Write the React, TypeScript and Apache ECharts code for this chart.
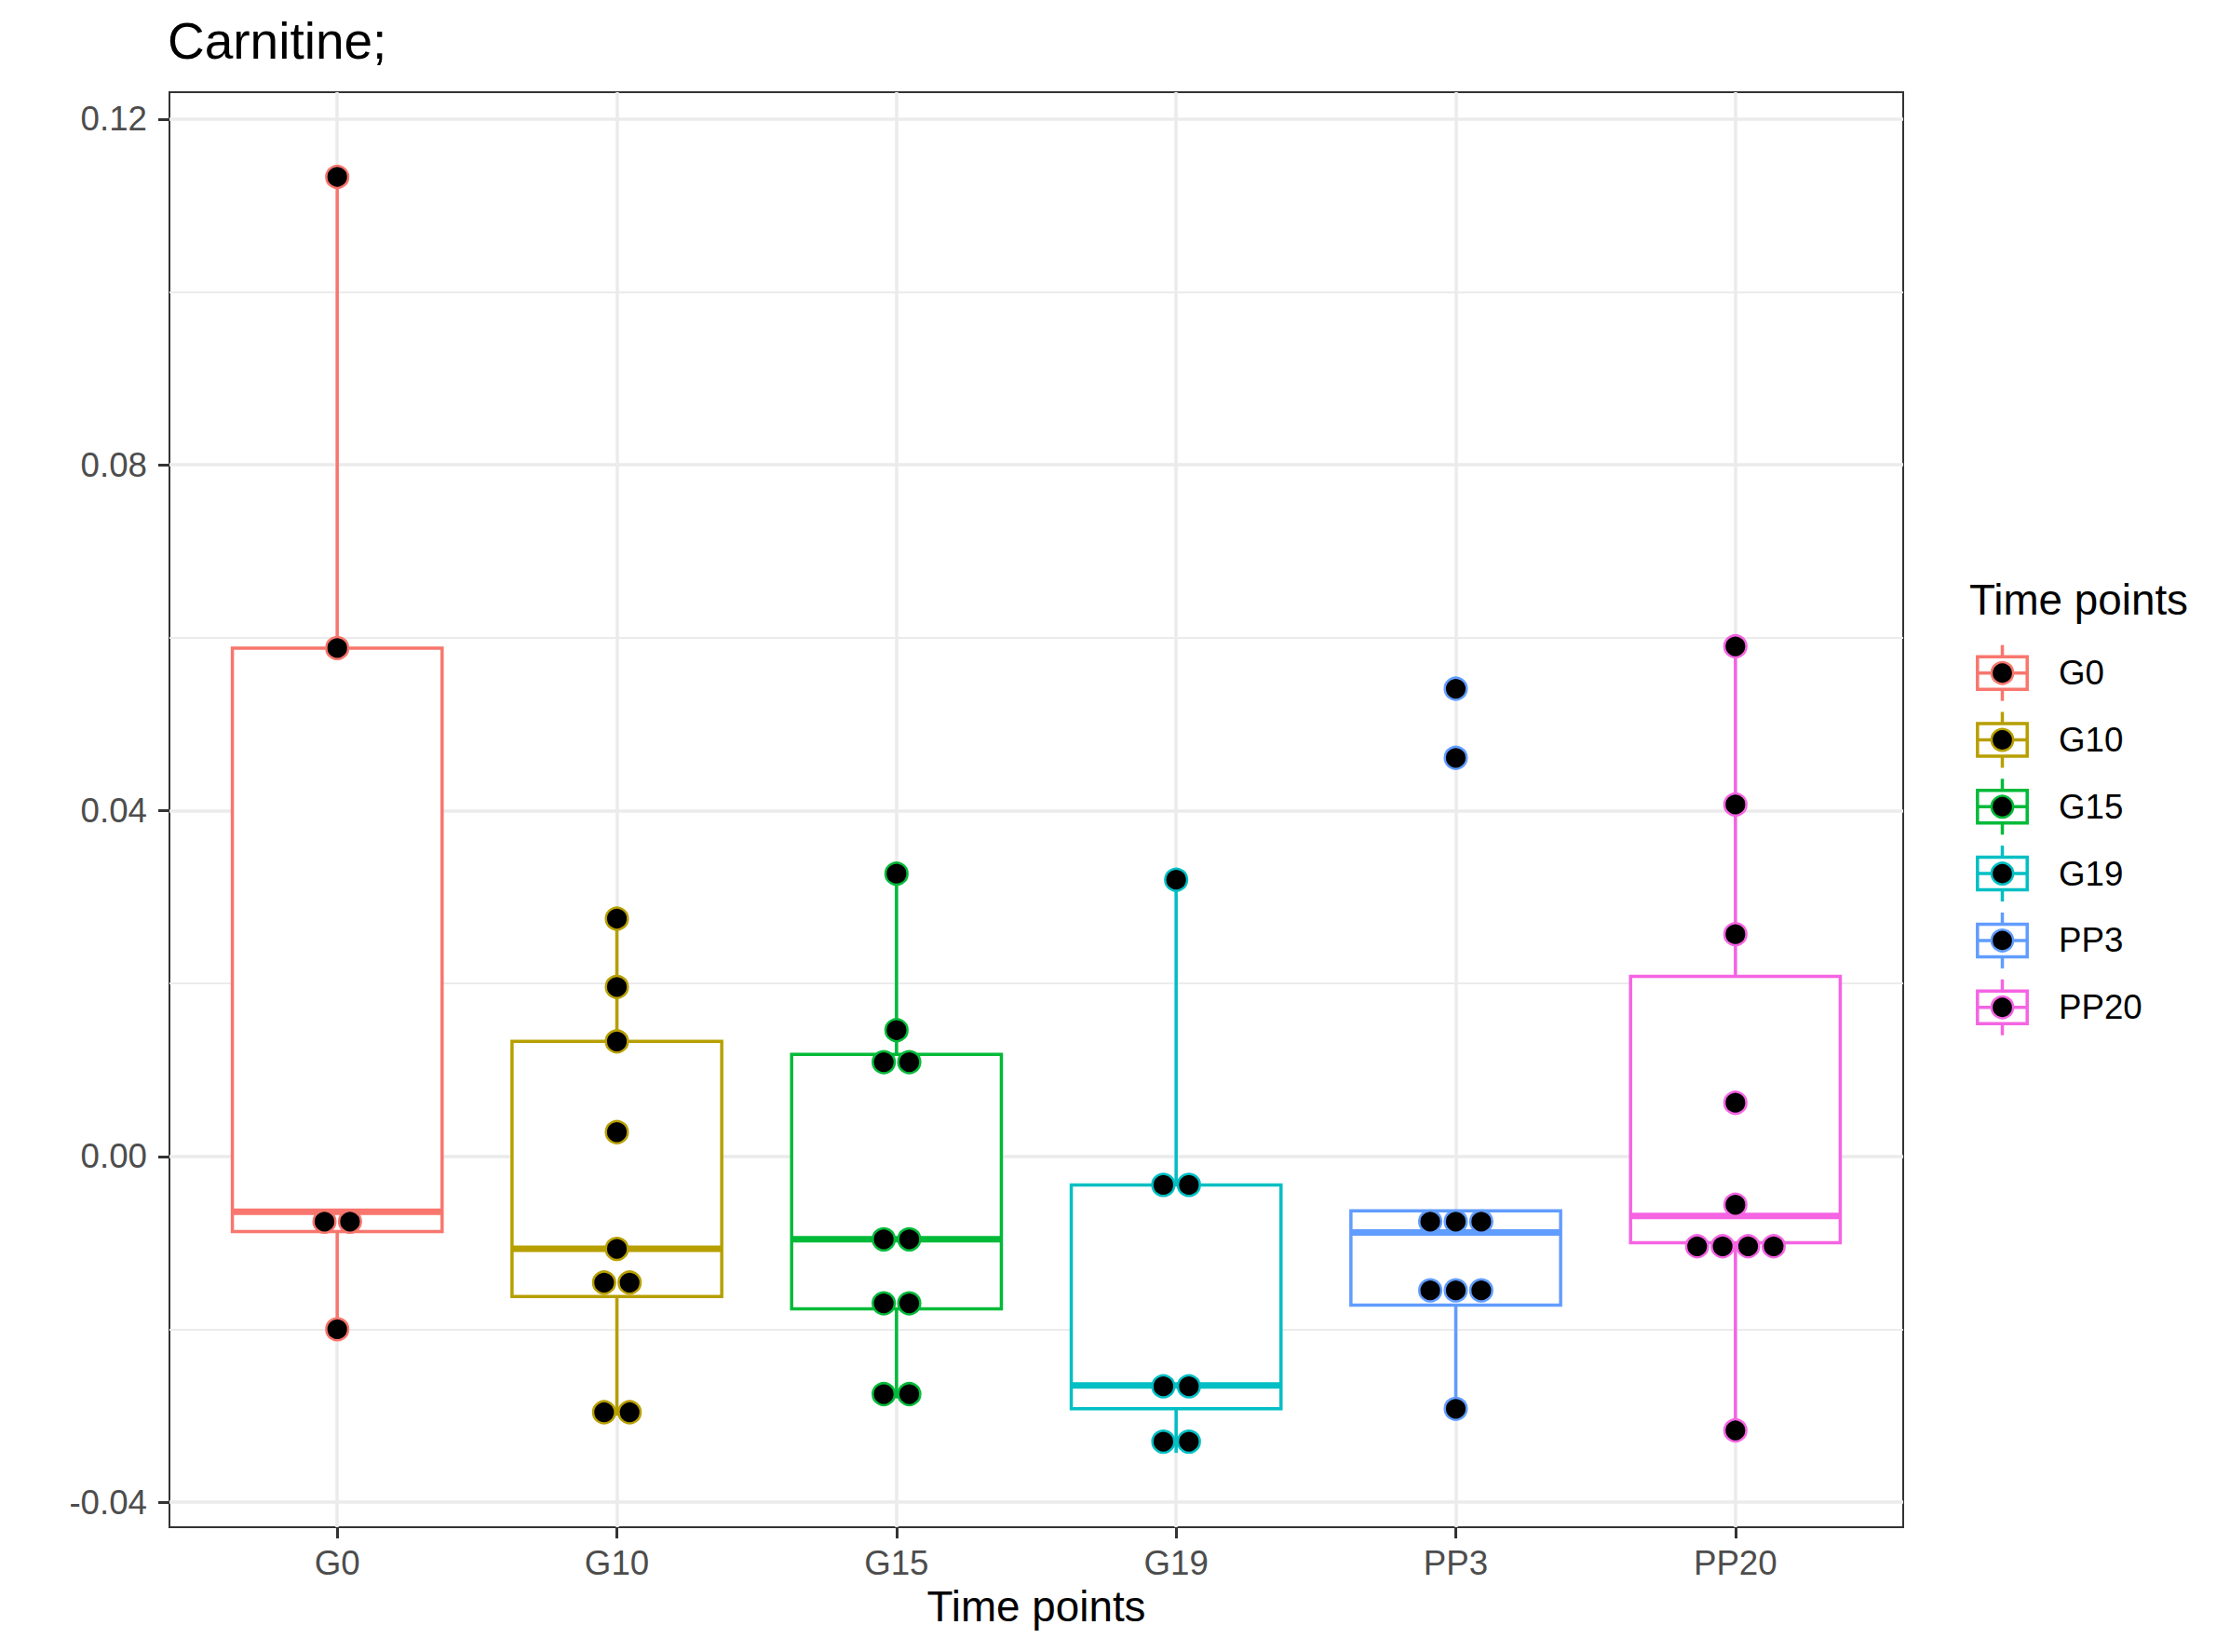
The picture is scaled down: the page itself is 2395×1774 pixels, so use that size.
import React, { useEffect, useRef } from "react";
import * as echarts from "echarts";

const FONT = "'Liberation Sans', Arial, Helvetica, sans-serif";

const categories = ["G0", "G10", "G15", "G19", "PP3", "PP20"];
const colors = ["#F8766D", "#B79F00", "#00BA38", "#00BFC4", "#619CFF", "#F564E3"];

const g0 = [-0.02, -0.0087, -0.0064, 0.0588, 0.1133];
const g10 = [-0.03, -0.0292, -0.0162, -0.013, -0.0107, 0.0028, 0.0133, 0.0196, 0.0275];
const g15 = [-0.028, -0.027, -0.0183, -0.0157, -0.0105, -0.0087, 0.0091, 0.0127, 0.0146, 0.0327];
const g19 = [-0.0343, -0.0317, -0.0267, -0.0265, -0.0036, -0.003, 0.032];
const pp3 = [-0.0292, -0.0174, -0.0172, -0.0136, -0.0088, -0.007, -0.0063, 0.0461, 0.0541];
const pp20 = [-0.0317, -0.0126, -0.0103, -0.0091, -0.0082, -0.0056, 0.0062, 0.0257, 0.0407, 0.059];
const groups = [g0, g10, g15, g19, pp3, pp20];

const yMajorTicks = [-0.04, 0, 0.04, 0.08, 0.12];
const yMinorTicks = [-0.02, 0.02, 0.06, 0.1];
const yRange = [-0.0429, 0.1231];
const xRange = [0.4, 6.6];
const xTicks = [1, 2, 3, 4, 5, 6];

const BOX_WIDTH = 0.75;
const DOT_SPACING = 27.4;
const DOT_R = 11.8;
const LINE_W = 3.5;

function quantile(sorted: number[], p: number) {
  const h = (sorted.length - 1) * p;
  const lo = Math.floor(h);
  const hi = Math.ceil(h);
  return sorted[lo] + (h - lo) * (sorted[hi] - sorted[lo]);
}

function boxStats(vals: number[]) {
  const s = [...vals].sort((a, b) => a - b);
  const q1 = quantile(s, 0.25);
  const med = quantile(s, 0.5);
  const q3 = quantile(s, 0.75);
  const iqr = q3 - q1;
  const lo = Math.min(...s.filter((v) => v >= q1 - 1.5 * iqr));
  const hi = Math.max(...s.filter((v) => v <= q3 + 1.5 * iqr));
  return [lo, q1, med, q3, hi];
}

// ggplot2 "dotdensity" binning
function densityBins(vals: number[], binwidth: number) {
  const s = [...vals].sort((a, b) => a - b);
  const bins: number[][] = [];
  let binEnd = -Infinity;
  for (const v of s) {
    if (v >= binEnd) {
      binEnd = v + binwidth;
      bins.push([]);
    }
    bins[bins.length - 1].push(v);
  }
  return bins.map((b) => ({ center: (b[0] + b[b.length - 1]) / 2, n: b.length }));
}

export default function App() {
  const ref = useRef<HTMLDivElement>(null);

  useEffect(() => {
    document.body.style.margin = "0";
    if (!ref.current) return;
    const chart = echarts.init(ref.current, null, { renderer: "svg" });

    const all = groups.flat();
    const binwidth = (Math.max(...all) - Math.min(...all)) / 30;

    const boxData = groups.map((g, i) => [i + 1, ...boxStats(g), i]);
    const dotData: number[][] = [];
    groups.forEach((g, i) => {
      densityBins(g, binwidth).forEach((b) => {
        for (let k = 0; k < b.n; k++) {
          dotData.push([i + 1, b.center, k - (b.n - 1) / 2, i]);
        }
      });
    });

    // legend graphics
    const legX = 2150.5;
    const legY0 = 722.7;
    const legStep = 71.8;
    const legendChildren: any[] = [
      {
        type: "text",
        x: 2115,
        y: 644,
        style: { text: "Time points", font: `45.8px ${FONT}`, fill: "#000", textVerticalAlign: "middle" },
      },
    ];
    categories.forEach((c, i) => {
      const cy = legY0 + i * legStep;
      const col = colors[i];
      legendChildren.push(
        { type: "line", shape: { x1: legX, y1: cy - 30, x2: legX, y2: cy + 30 }, style: { stroke: col, lineWidth: LINE_W } },
        { type: "rect", shape: { x: legX - 26.7, y: cy - 17.5, width: 53.4, height: 35 }, style: { fill: "#fff", stroke: col, lineWidth: LINE_W } },
        { type: "line", shape: { x1: legX - 26.7, y1: cy, x2: legX + 26.7, y2: cy }, style: { stroke: col, lineWidth: LINE_W } },
        { type: "circle", shape: { cx: legX, cy, r: 11.6 }, style: { fill: "#000", stroke: col, lineWidth: 2.5 } },
        {
          type: "text",
          x: 2211,
          y: cy,
          style: { text: c, font: `36.7px ${FONT}`, fill: "#000", textVerticalAlign: "middle" },
        }
      );
    });

    chart.setOption({
      animation: false,
      backgroundColor: "#fff",
      title: {
        text: "Carnitine;",
        left: 180,
        top: 16,
        padding: 0,
        textStyle: { fontSize: 55, fontWeight: "normal", color: "#000", fontFamily: FONT },
      },
      grid: {
        left: 182,
        top: 99,
        width: 1862,
        height: 1541,
        show: true,
        borderColor: "#333333",
        borderWidth: 2,
        backgroundColor: "#fff",
      },
      xAxis: {
        type: "value",
        min: xRange[0],
        max: xRange[1],
        position: "bottom",
        axisLine: { show: false, onZero: false },
        axisTick: { show: true, length: 12, customValues: xTicks, lineStyle: { color: "#333333", width: 3 } },
        axisLabel: {
          customValues: xTicks,
          formatter: (v: number) => categories[Math.round(v) - 1] ?? "",
          color: "#4D4D4D",
          fontSize: 36.7,
          fontFamily: FONT,
          margin: 20,
        },
        splitLine: { show: true, lineStyle: { color: "#EBEBEB", width: 3.5 } },
        name: "Time points",
        nameLocation: "middle",
        nameGap: 62,
        nameTextStyle: { fontSize: 45.8, color: "#000", fontFamily: FONT },
      },
      yAxis: [
        {
          type: "value",
          min: yRange[0],
          max: yRange[1],
          position: "left",
          axisLine: { show: false, onZero: false },
          axisTick: { show: true, length: 12, customValues: yMajorTicks, lineStyle: { color: "#333333", width: 3 } },
          axisLabel: {
            customValues: yMajorTicks,
            formatter: (v: number) => v.toFixed(2),
            color: "#4D4D4D",
            fontSize: 36.7,
            fontFamily: FONT,
            margin: 24,
          },
          splitLine: { show: true, lineStyle: { color: "#EBEBEB", width: 3.5 } },
        },
        {
          type: "value",
          min: yRange[0],
          max: yRange[1],
          position: "right",
          axisLine: { show: false, onZero: false },
          axisTick: { show: false, customValues: yMinorTicks },
          axisLabel: { show: false, customValues: yMinorTicks },
          splitLine: { show: true, lineStyle: { color: "#EBEBEB", width: 1.8 } },
        },
      ],
      series: [
        {
          type: "custom",
          name: "box",
          data: boxData,
          encode: { x: 0, y: [1, 2, 3, 4, 5] },
          z: 2,
          renderItem: (params: any, api: any) => {
            const x = api.value(0);
            const col = colors[api.value(6)];
            const halfW = api.size([BOX_WIDTH, 0])[0] / 2;
            const pLo = api.coord([x, api.value(1)]);
            const pQ1 = api.coord([x, api.value(2)]);
            const pMed = api.coord([x, api.value(3)]);
            const pQ3 = api.coord([x, api.value(4)]);
            const pHi = api.coord([x, api.value(5)]);
            const children: any[] = [];
            if (Math.abs(pHi[1] - pQ3[1]) > 0.5) {
              children.push({ type: "line", shape: { x1: pQ3[0], y1: pQ3[1], x2: pHi[0], y2: pHi[1] }, style: { stroke: col, lineWidth: LINE_W } });
            }
            if (Math.abs(pLo[1] - pQ1[1]) > 0.5) {
              children.push({ type: "line", shape: { x1: pLo[0], y1: pLo[1], x2: pQ1[0], y2: pQ1[1] }, style: { stroke: col, lineWidth: LINE_W } });
            }
            children.push(
              {
                type: "rect",
                shape: { x: pQ1[0] - halfW, y: pQ3[1], width: 2 * halfW, height: pQ1[1] - pQ3[1] },
                style: { fill: "#fff", stroke: col, lineWidth: LINE_W },
              },
              {
                type: "line",
                shape: { x1: pMed[0] - halfW, y1: pMed[1], x2: pMed[0] + halfW, y2: pMed[1] },
                style: { stroke: col, lineWidth: 7 },
              }
            );
            return { type: "group", children };
          },
        },
        {
          type: "custom",
          name: "dots",
          data: dotData,
          encode: { x: 0, y: 1 },
          z: 3,
          renderItem: (params: any, api: any) => {
            const p = api.coord([api.value(0), api.value(1)]);
            const col = colors[api.value(3)];
            return {
              type: "circle",
              shape: { cx: p[0] + api.value(2) * DOT_SPACING, cy: p[1], r: DOT_R },
              style: { fill: "#000", stroke: col, lineWidth: 2.5 },
            };
          },
        },
      ],
      graphic: [{ type: "group", children: legendChildren }],
    });

    return () => chart.dispose();
  }, []);

  return <div ref={ref} style={{ width: 2395, height: 1774 }} />;
}
